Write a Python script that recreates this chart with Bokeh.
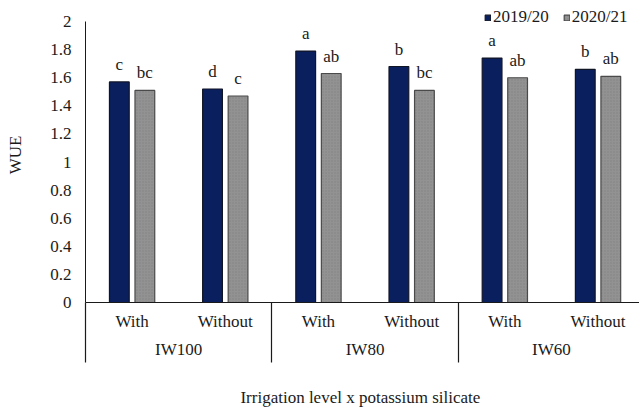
from bokeh.plotting import figure
from bokeh.models import (ColumnDataSource, Range1d, FixedTicker, LinearAxis,
                          LabelSet, Legend, LegendItem)
from bokeh.transform import dodge
from bokeh.embed import file_html
from bokeh.resources import INLINE

# Water use efficiency by irrigation level and potassium silicate treatment
groups = ["IW100", "IW80", "IW60"]
treatments = ["With", "Without", "With", "Without", "With", "Without"]
wue_2019 = [1.57, 1.52, 1.79, 1.68, 1.74, 1.66]
wue_2020 = [1.51, 1.47, 1.63, 1.51, 1.60, 1.61]
letters_2019 = ["c", "d", "a", "b", "a", "b"]
letters_2020 = ["bc", "c", "ab", "bc", "ab", "ab"]
seasons = ["2019/20", "2020/21"]
y_ticks = [0, 0.2, 0.4, 0.6, 0.8, 1.0, 1.2, 1.4, 1.6, 1.8, 2.0]

FONT = "'Liberation Serif', 'Times New Roman', serif"
FS = "17px"
TXT = "#1a1a1a"
NAVY = "#0a1f5e"
GREY = "#929292"

x_centers = [i + 0.5 for i in range(len(treatments))]
group_centers = [2 * g + 1 for g in range(len(groups))]
separators = [2 * g for g in range(len(groups) + 1)]

src = ColumnDataSource(dict(x=x_centers, wue_2019=wue_2019, wue_2020=wue_2020,
                            l2019=letters_2019, l2020=letters_2020))

p = figure(width=639, height=410, output_backend="svg", toolbar_location=None,
           x_range=Range1d(0, 5.945), y_range=Range1d(0, 2.1),
           min_border_left=85, min_border_right=0, min_border_top=7,
           min_border_bottom=108, outline_line_color=None)
p.grid.visible = False
p.background_fill_color = "white"
p.border_fill_color = "white"

BAR_W = 0.212
OFF = 0.137
r1 = p.vbar(x=dodge("x", -OFF), top="wue_2019", width=BAR_W, source=src,
            fill_color=NAVY, line_color="#101526", line_width=1.2)
r2 = p.vbar(x=dodge("x", OFF), top="wue_2020", width=BAR_W, source=src,
            fill_color=GREY, line_color="#4a4a4a", line_width=1.2,
            hatch_pattern="dot", hatch_color="#6a6a6a", hatch_scale=3,
            hatch_alpha=0.35)

for col, lab, off in (("wue_2019", "l2019", -OFF), ("wue_2020", "l2020", OFF)):
    p.add_layout(LabelSet(x=dodge("x", off), y=col, text=lab, source=src,
                          text_align="center", text_baseline="bottom",
                          y_offset=8, text_font=FONT, text_font_size=FS,
                          text_color=TXT))

# y axis
ya = p.yaxis[0]
ya.ticker = FixedTicker(ticks=y_ticks)
ya.major_label_overrides = {0: "0", 1: "1", 2: "2"}
ya.bounds = (0, 2)
ya.major_tick_out = 0
ya.major_tick_in = 0
ya.minor_tick_out = 0
ya.minor_tick_in = 0
ya.major_label_standoff = 14
ya.axis_label = "WUE"
ya.axis_label_standoff = 22
ya.axis_label_text_font = FONT
ya.axis_label_text_font_style = "normal"
ya.axis_label_text_font_size = FS
ya.axis_label_text_color = TXT
ya.major_label_text_font = FONT
ya.major_label_text_font_size = FS
ya.major_label_text_color = TXT
ya.axis_line_color = TXT

# x axis: treatment labels under each pair of bars
xa = p.xaxis[0]
xa.ticker = FixedTicker(ticks=x_centers, minor_ticks=[])
xa.major_label_overrides = {x: t for x, t in zip(x_centers, treatments)}
xa.major_tick_out = 0
xa.major_tick_in = 0
xa.minor_tick_in = 0
xa.minor_tick_out = 0
xa.major_label_standoff = 9
xa.major_label_text_font = FONT
xa.major_label_text_font_size = FS
xa.major_label_text_color = TXT
xa.axis_line_color = TXT
xa.axis_line_width = 1.2

# second axis below: irrigation level groups
ga = LinearAxis(ticker=FixedTicker(ticks=group_centers, minor_ticks=[]),
                major_label_overrides={x: g for x, g in zip(group_centers, groups)},
                axis_line_color=None, major_tick_line_color=None,
                minor_tick_line_color=None, major_tick_out=0, major_tick_in=0,
                minor_tick_out=0, minor_tick_in=0,
                major_label_standoff=6,
                major_label_text_font=FONT, major_label_text_font_size=FS,
                major_label_text_color=TXT)
p.add_layout(ga, "below")

# third axis: group separators (long inward ticks) and the axis title
sa = LinearAxis(ticker=FixedTicker(ticks=[], minor_ticks=separators),
                axis_line_color=None, major_tick_line_color=None,
                major_tick_out=0, major_tick_in=0,
                minor_tick_in=59, minor_tick_out=1,
                minor_tick_line_color=TXT, minor_tick_line_width=1.2,
                major_label_standoff=0, major_label_text_font_size="0px",
                axis_label="Irrigation  level x potassium silicate",
                axis_label_standoff=25, axis_label_text_font=FONT,
                axis_label_text_font_style="normal",
                axis_label_text_font_size=FS, axis_label_text_color=TXT)
p.add_layout(sa, "below")

legend = Legend(items=[LegendItem(label=seasons[0], renderers=[r1]),
                       LegendItem(label=seasons[1], renderers=[r2])],
                location=(399, 275), orientation="horizontal",
                background_fill_alpha=0, border_line_color=None,
                margin=0, padding=2, spacing=14, label_standoff=2,
                glyph_width=7, glyph_height=7,
                label_text_font=FONT, label_text_font_size=FS,
                label_text_color=TXT)
p.add_layout(legend)

open("out.html", "w").write(file_html(p, INLINE))
